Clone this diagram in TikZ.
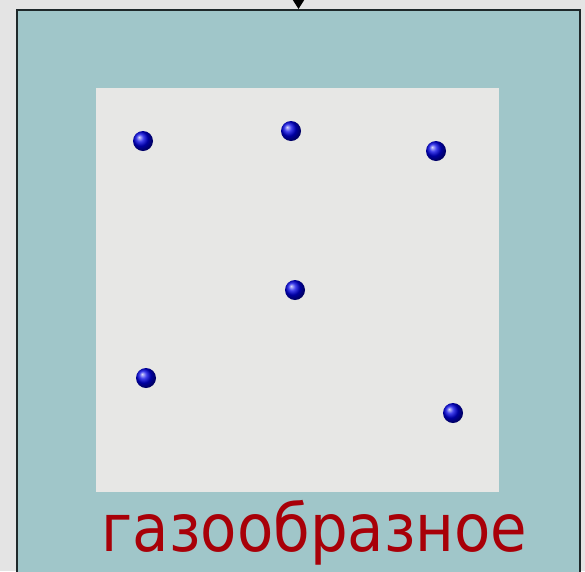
\documentclass[tikz,border=0pt]{standalone}
\usepackage{fontspec}
\newfontfamily\labelfont{DejaVu Sans Condensed}
\usepackage{xcolor}
\definecolor{backdrop}{RGB}{228,228,228}
\definecolor{chamber}{RGB}{160,198,201}
\definecolor{frame}{RGB}{30,40,42}
\definecolor{space}{RGB}{231,231,229}
\definecolor{wine}{RGB}{168,0,8}
\usetikzlibrary{arrows.meta, positioning}
\tikzset{
  vessel/.style={draw=frame, fill=chamber, line width=2.2pt,
    minimum width=563pt, minimum height=600pt, inner sep=0pt},
  interior/.style={fill=space, minimum width=403pt, minimum height=404pt,
    inner sep=0pt},
  molecule/.style={circle, minimum size=20pt, inner sep=0pt,
    shading=ball, ball color=blue!90!black},
  statelabel/.style={text=wine, font=\labelfont\fontsize{66}{66}\selectfont,
    inner sep=0pt},
  feedarrow/.style={-{Triangle[width=11pt,length=9pt]}, line width=1.5pt, color=black}
}
\begin{document}
\begin{tikzpicture}[x=1pt, y=-1pt]
  \useasboundingbox[fill=backdrop] (0,0) rectangle (585,571);
  \clip (0,0) rectangle (585,571);

  \node[vessel, anchor=north]          (outer) at (298.5,9) {};
  \node[interior, anchor=north west]   (inner) at (96,88) {};

  \node[molecule] (m1) at (143,141) {};
  \node[molecule] (m2) at (291,131) {};
  \node[molecule] (m3) at (436,151) {};
  \node[molecule] (m4) at (295,290) {};
  \node[molecule] (m5) at (146,378) {};
  \node[molecule] (m6) at (453,413) {};

  \node[statelabel, anchor=base] (state) at (314.5,551) {газообразное};

  \coordinate (feed) at (298.5,-4);
  \draw[feedarrow] (feed) -- (outer.north);
\end{tikzpicture}
\end{document}
